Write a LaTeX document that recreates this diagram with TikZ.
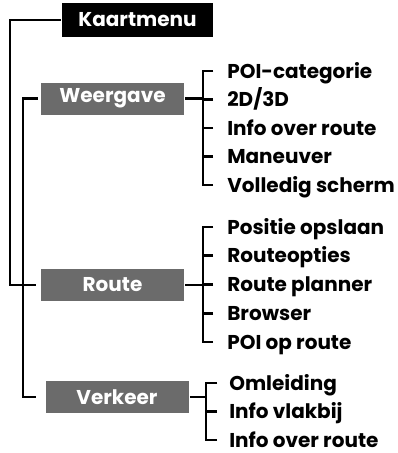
\documentclass[tikz,border=0pt]{standalone}
\usepackage{fontspec}
\setmainfont{Poppins}
\usepackage{tikz}
\usepackage{xcolor}
\definecolor{menugrey}{HTML}{6B6B6B}

\begin{document}
\begin{tikzpicture}[x=1pt,y=-1pt,line width=2.6pt,
    mainbox/.style={fill=black,text=white,inner sep=0pt,minimum width=151pt,minimum height=34pt,font=\fontsize{20}{22}\selectfont\bfseries},
    subbox/.style={fill=menugrey,text=white,inner sep=0pt,minimum width=143pt,minimum height=32pt,font=\fontsize{20}{22}\selectfont\bfseries},
    item/.style={anchor=west,inner sep=0pt,text height=14pt,text depth=0pt,font=\fontsize{20}{22}\selectfont\bfseries}]
        \useasboundingbox (0,0) rectangle (398,453);

        \node[mainbox] (kaart) at (137.5,20) {Kaartmenu};
        \node[subbox] (weergave) at (112.5,98.5) {Weergave};
        \node[subbox] (route) at (112.5,285) {Route};
        \node[subbox] (verkeer) at (117,397) {Verkeer};

        \draw (kaart.west) -- (10,20) |- ([xshift=-4pt]route.west);
        \draw ([xshift=-2pt]weergave.west) -- (23,98.5) |- ([xshift=-8pt]verkeer.west);

        \foreach \t [count=\i] in {POI-categorie,2D/3D,Info over route,Maneuver,Volledig scherm} {
            \node[item] (w\i) at (226,{71+28.5*(\i-1)}) {\t};
            \draw ([xshift=-13pt]w\i.west) -- ++(-10,0);
        }
        \draw ([xshift=-13pt]w1.west) -- ++(-10,0) |- ([xshift=-13pt]w5.west);
        \draw (weergave.east) -- ++(19,0);

        \foreach \t [count=\i] in {Positie opslaan,Routeopties,Route planner,Browser,POI op route} {
            \node[item] (r\i) at (226,{227+28.75*(\i-1)}) {\t};
            \draw ([xshift=-13pt]r\i.west) -- ++(-10,0);
        }
        \draw ([xshift=-13pt]r1.west) -- ++(-10,0) |- ([xshift=-13pt]r5.west);
        \draw (route.east) -- ++(19,0);

        \foreach \t [count=\i] in {Omleiding,Info vlakbij,Info over route} {
            \node[item] (v\i) at (228,{383+28.5*(\i-1)}) {\t};
            \draw ([xshift=-11pt]v\i.west) -- ++(-11,0);
        }
        \draw ([xshift=-11pt]v1.west) -- ++(-11,0) |- ([xshift=-11pt]v3.west);
        \draw (verkeer.east) -- ++(17,0);
    \end{tikzpicture}
\end{document}
